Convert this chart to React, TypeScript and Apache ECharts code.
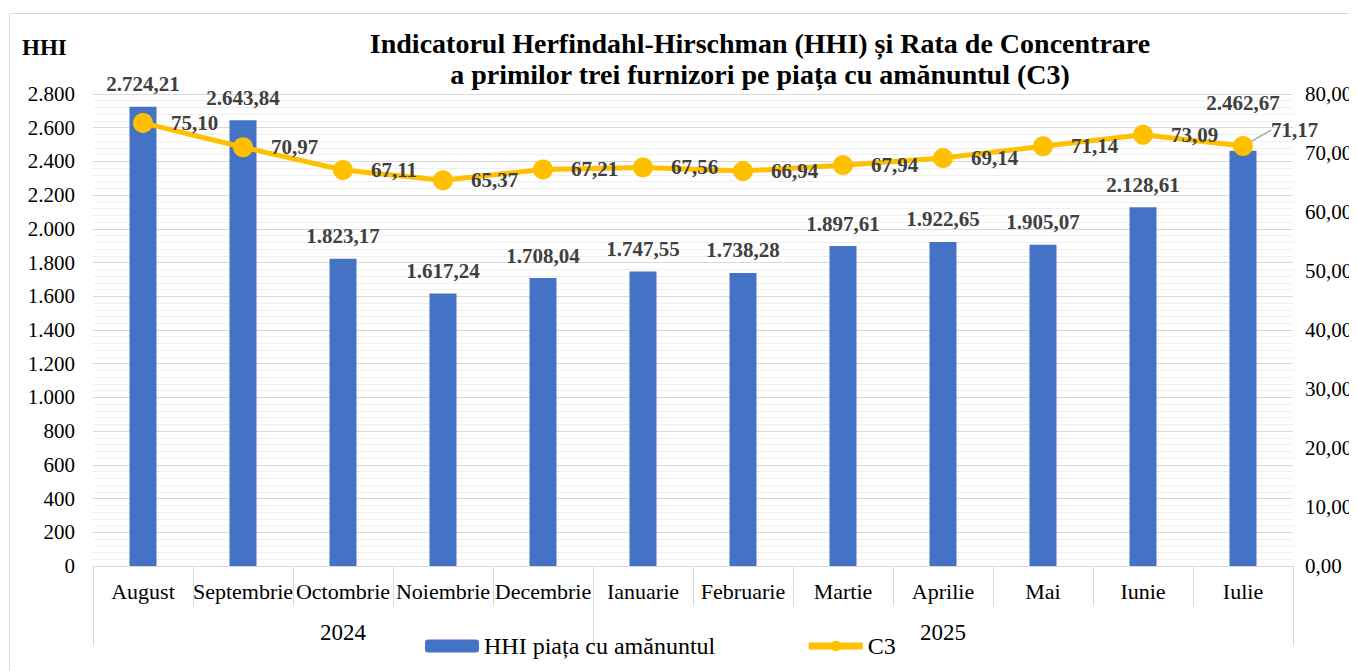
import React, { useEffect, useRef } from "react";
import * as echarts from "echarts";

const months = ["August", "Septembrie", "Octombrie", "Noiembrie", "Decembrie", "Ianuarie", "Februarie", "Martie", "Aprilie", "Mai", "Iunie", "Iulie"];
const years = ["2024", "2025"];
const hhiValues = [2724.21, 2643.84, 1823.17, 1617.24, 1708.04, 1747.55, 1738.28, 1897.61, 1922.65, 1905.07, 2128.61, 2462.67];
const c3Values = [75.1, 70.97, 67.11, 65.37, 67.21, 67.56, 66.94, 67.94, 69.14, 71.14, 73.09, 71.17];
const titleLines = ["Indicatorul Herfindahl-Hirschman (HHI) și Rata de Concentrare", "a primilor trei furnizori pe piața cu amănuntul (C3)"];
const seriesNames = ["HHI piața cu amănuntul", "C3"];

const FONT = "Liberation Serif, Times New Roman, serif";

function fmtRo(v: number, decimals: number): string {
  const neg = v < 0;
  const fixed = Math.abs(v).toFixed(decimals);
  const [intPart, decPart] = fixed.split(".");
  const grouped = intPart.replace(/\B(?=(\d{3})+(?!\d))/g, ".");
  return (neg ? "-" : "") + grouped + (decPart !== undefined ? "," + decPart : "");
}

export default function App() {
  const ref = useRef<HTMLDivElement>(null);
  useEffect(() => {
    if (!ref.current) return;
    const chart = echarts.init(ref.current, undefined, { renderer: "svg" });
    const lastIdx = hhiValues.length - 1;
    chart.setOption({
      animation: false,
      backgroundColor: "#ffffff",
      textStyle: { fontFamily: FONT },
      graphic: [
        {
          type: "rect",
          shape: { x: 1.5, y: 5.5, width: 1500, height: 900 },
          style: { fill: "none", stroke: "#d9d9d9", lineWidth: 1 },
          silent: true,
          z: -10,
        },
        {
          type: "text",
          x: 752,
          y: 20,
          style: {
            text: titleLines.join("\n"),
            font: `bold 28px ${FONT}`,
            fill: "#000000",
            align: "center",
            lineHeight: 31,
          },
        },
        {
          type: "text",
          x: 14,
          y: 28,
          style: { text: "HHI", font: `bold 23px ${FONT}`, fill: "#000000" },
        },
      ],
      legend: {
        left: 412,
        top: 621,
        itemWidth: 54,
        itemHeight: 13,
        itemGap: 90,
        textStyle: { fontFamily: FONT, fontSize: 24, color: "#000000" },
        data: [
          { name: seriesNames[0] },
          { name: seriesNames[1], lineStyle: { width: 7 } },
        ],
      },
      grid: { left: 85, top: 86, width: 1200, height: 472, containLabel: false },
      xAxis: [
        {
          type: "category",
          data: months,
          position: "bottom",
          axisLine: { lineStyle: { color: "#d9d9d9", width: 1 } },
          axisTick: { show: true, length: 40, lineStyle: { color: "#d9d9d9" } },
          axisLabel: { color: "#000000", fontFamily: FONT, fontSize: 22, margin: 14, interval: 0 },
          splitLine: { show: false },
        },
        {
          type: "value",
          min: 0,
          max: 12,
          position: "bottom",
          axisLine: { show: false },
          axisTick: { show: true, length: 80, customValues: [0, 5, 12], lineStyle: { color: "#d9d9d9" } },
          axisLabel: {
            show: true,
            customValues: [2.5, 8.5],
            formatter: (v: number) => (v < 6 ? years[0] : years[1]),
            color: "#000000",
            fontFamily: FONT,
            fontSize: 23,
            margin: 55,
          },
          splitLine: { show: false },
        },
      ],
      yAxis: [
        {
          type: "value",
          min: 0,
          max: 2800,
          interval: 200,
          axisLine: { show: false },
          axisTick: { show: false },
          axisLabel: { color: "#000000", fontFamily: FONT, fontSize: 21, margin: 18, formatter: (v: number) => fmtRo(v, 0) },
          splitLine: { lineStyle: { color: "#d9d9d9", width: 1 } },
          minorTick: { show: false, splitNumber: 5 },
          minorSplitLine: { show: true, lineStyle: { color: "#efefef", width: 1 } },
        },
        {
          type: "value",
          min: 0,
          max: 80,
          interval: 10,
          position: "right",
          axisLine: { show: false },
          axisTick: { show: false },
          axisLabel: { color: "#000000", fontFamily: FONT, fontSize: 21, margin: 12, formatter: (v: number) => fmtRo(v, 2) },
          splitLine: { show: false },
        },
      ],
      series: [
        {
          name: seriesNames[0],
          type: "bar",
          data: hhiValues.map((v, i) =>
            i === lastIdx ? { value: v, label: { offset: [0, -25] } } : v
          ),
          barWidth: 27,
          itemStyle: { color: "#4472C4" },
          label: {
            show: true,
            position: "top",
            distance: 12,
            color: "#404040",
            fontFamily: FONT,
            fontWeight: "bold",
            fontSize: 21,
            formatter: (p: any) => fmtRo(p.value, 2),
          },
        },
        {
          name: seriesNames[1],
          type: "line",
          yAxisIndex: 1,
          data: c3Values.map((v, i) =>
            i === lastIdx ? { value: v, labelLine: { show: true } } : v
          ),
          symbol: "circle",
          symbolSize: 20,
          lineStyle: { color: "#FFC000", width: 5 },
          itemStyle: { color: "#FFC000" },
          label: {
            show: true,
            position: "right",
            distance: 18,
            color: "#404040",
            fontFamily: FONT,
            fontWeight: "bold",
            fontSize: 21,
            formatter: (p: any) => fmtRo(p.value, 2),
          },
          labelLine: { show: false, lineStyle: { color: "#a6a6a6", width: 1.5 } },
          labelLayout: (p: any) => (p.dataIndex === lastIdx ? { dy: -16 } : {}),
          z: 5,
        },
      ],
    });
    return () => chart.dispose();
  }, []);
  return (
    <div style={{ width: 1349, height: 663, overflow: "hidden" }}>
      <div ref={ref} style={{ width: 1400, height: 700 }} />
    </div>
  );
}
